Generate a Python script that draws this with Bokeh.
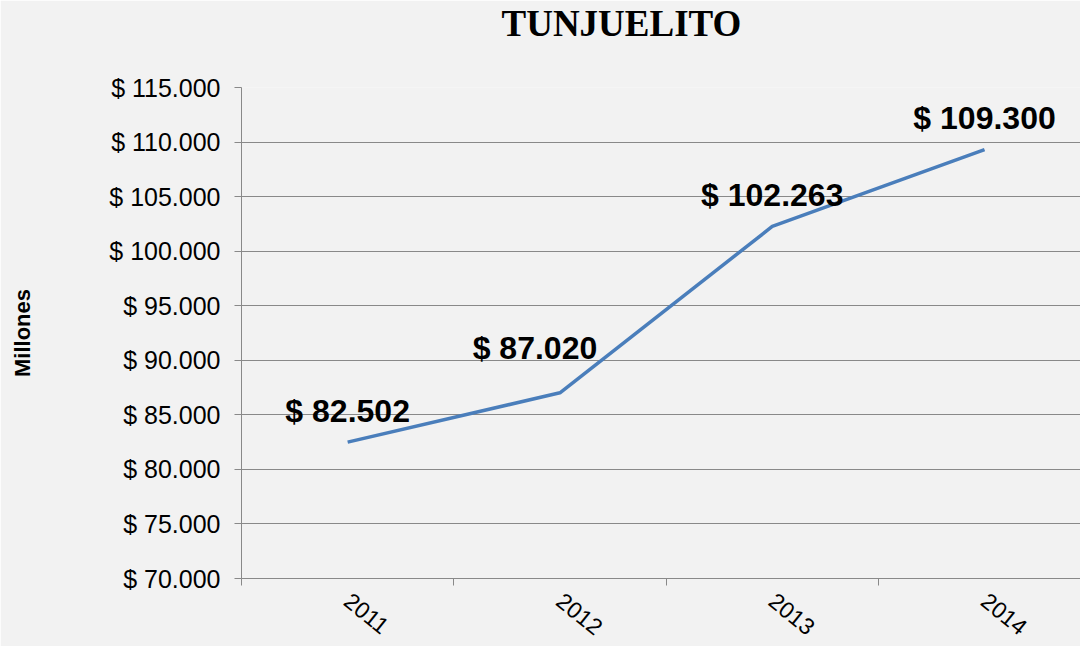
from bokeh.plotting import figure
from bokeh.models import Range1d, FixedTicker, ColumnDataSource, Title
from bokeh.core.properties import value
from bokeh.embed import file_html
from bokeh.resources import INLINE

# ---- data ----
titulo = "TUNJUELITO"
years = ["2011", "2012", "2013", "2014"]
valores = [82502, 87020, 102263, 109300]
etiquetas = ["$ 82.502", "$ 87.020", "$ 102.263", "$ 109.300"]
y_ticks = [70000, 75000, 80000, 85000, 90000, 95000, 100000, 105000, 110000, 115000]
y_tick_labels = ["$ 70.000", "$ 75.000", "$ 80.000", "$ 85.000", "$ 90.000",
                 "$ 95.000", "$ 100.000", "$ 105.000", "$ 110.000", "$ 115.000"]

xs = [i + 0.5 for i in range(len(years))]
bounds = [float(i) for i in range(len(years))]

BG = "#f2f2f2"
GRID = "#898989"
SANS = "Liberation Sans"

p = figure(width=1080, height=646, output_backend="svg", toolbar_location=None,
           x_range=Range1d(0, 3.952), y_range=Range1d(70000, 115000),
           min_border_left=241, min_border_right=0, min_border_top=87,
           min_border_bottom=68)

p.background_fill_color = BG
p.border_fill_color = BG
p.outline_line_color = None

# spacer between title and plot frame, then the title itself
spacer = Title(text=" ", text_font_size="20px", standoff=18, text_color=BG)
p.add_layout(spacer, "above")
p.add_layout(Title(text=titulo, text_font="Liberation Serif", text_font_style="bold",
                   text_font_size="37px", text_color="#000000", align="left",
                   offset=260, vertical_align="top", standoff=0), "above")

# grid
p.xgrid.grid_line_color = None
p.ygrid.grid_line_color = GRID
p.ygrid.grid_line_width = 1

# y axis
p.yaxis.ticker = FixedTicker(ticks=y_ticks)
p.yaxis.major_label_overrides = {t: l for t, l in zip(y_ticks, y_tick_labels)}
p.yaxis.major_label_text_font = SANS
p.yaxis.major_label_text_font_size = "25px"
p.yaxis.major_label_text_color = "#000000"
p.yaxis.major_label_standoff = 14
p.yaxis.major_tick_out = 7
p.yaxis.major_tick_in = 0
p.yaxis.minor_tick_out = 0
p.yaxis.minor_tick_in = 0
p.yaxis.axis_line_color = GRID
p.yaxis.major_tick_line_color = GRID
p.yaxis.axis_label = "Millones"
p.yaxis.axis_label_text_font = SANS
p.yaxis.axis_label_text_font_style = "bold"
p.yaxis.axis_label_text_font_size = "22px"
p.yaxis.axis_label_text_color = "#000000"
p.yaxis.axis_label_standoff = 71

# x axis
p.xaxis.ticker = FixedTicker(ticks=xs, minor_ticks=bounds)
p.xaxis.major_label_overrides = {x: y for x, y in zip(xs, years)}
p.xaxis.major_label_orientation = -0.68
p.xaxis.major_label_text_font = SANS
p.xaxis.major_label_text_font_size = "23px"
p.xaxis.major_label_text_color = "#000000"
p.xaxis.major_label_standoff = 12
p.xaxis.major_tick_out = 0
p.xaxis.major_tick_in = 0
p.xaxis.minor_tick_out = 7
p.xaxis.minor_tick_in = 0
p.xaxis.minor_tick_line_color = GRID
p.xaxis.axis_line_color = GRID

src = ColumnDataSource(dict(x=xs, y=valores, lab=etiquetas,
                            dx=[0, -25, 0, 0], dy=[-31, -45, -31, -32]))

p.line("x", "y", source=src, line_color="#4a7ebb", line_width=3.5)
p.text("x", "y", text="lab", source=src, x_offset="dx", y_offset="dy",
       text_align="center", text_baseline="middle",
       text_font=value(SANS), text_font_style="bold", text_font_size="32px",
       text_color="#000000")

open("out.html", "w").write(file_html(p, INLINE))
